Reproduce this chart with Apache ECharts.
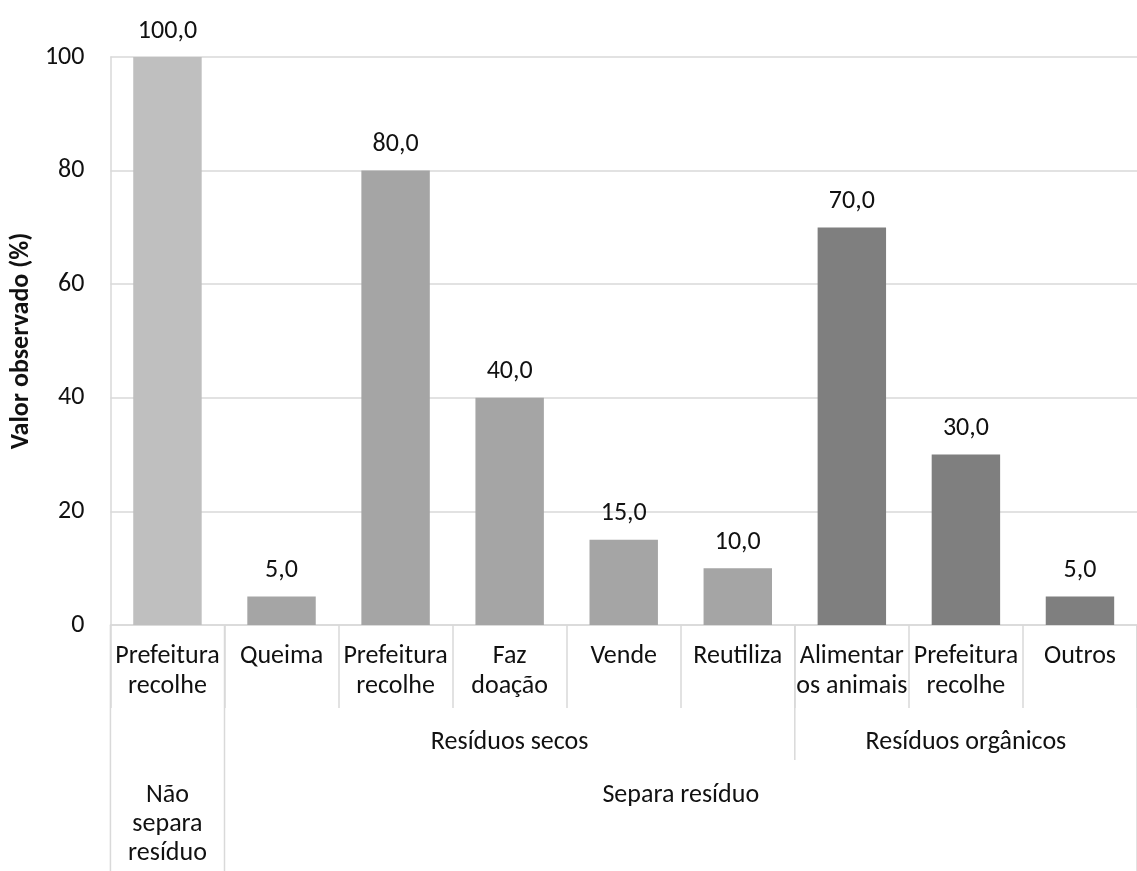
<!DOCTYPE html>
<html>
<head>
<meta charset="utf-8">
<script src="https://cdn.jsdelivr.net/npm/echarts@6/dist/echarts.min.js"></script>
<style>
  html, body { margin: 0; padding: 0; background: #fff; }
  #chart { width: 1137px; height: 871px; }
</style>
</head>
<body>
<div id="chart"></div>
<script>
// categorias (nível 1), valores e agrupamentos
const categories = ['Prefeitura\nrecolhe', 'Queima', 'Prefeitura\nrecolhe', 'Faz\ndoação', 'Vende',
  'Reutiliza', 'Alimentar\nos animais', 'Prefeitura\nrecolhe', 'Outros'];
const values = [100, 5, 80, 40, 15, 10, 70, 30, 5];
const level2Labels = ['', 'Resíduos secos', 'Resíduos orgânicos'];
const level2Spans = [1, 5, 3];
const level3Labels = ['Não\nsepara\nresíduo', 'Separa resíduo'];
const level3Spans = [1, 8];
const groupColors = ['#bfbfbf', '#a5a5a5', '#7f7f7f'];

const FONT = 'Carlito, Lato, sans-serif';
const FS = 26;
const TXT = '#111';
const LINE = '#d9d9d9';

// cor de cada barra pelo grupo do nível 2
const barColors = [];
level2Spans.forEach((n, g) => { for (let i = 0; i < n; i++) barColors.push(groupColors[g]); });

const chart = echarts.init(document.getElementById('chart'));
chart.setOption({
  animation: false,
  grid: { left: 110, right: -15, top: 57, bottom: 246, containLabel: false },
  xAxis: {
    type: 'category',
    data: categories,
    axisLine: { lineStyle: { color: LINE, width: 1.5 } },
    axisTick: { show: true, length: 83, interval: 0, lineStyle: { color: LINE, width: 1.5 } },
    axisLabel: {
      interval: 0, margin: 16, color: TXT, fontFamily: FONT, fontSize: FS,
      lineHeight: 30, verticalAlign: 'top'
    }
  },
  yAxis: {
    type: 'value', min: 0, max: 100, interval: 20,
    name: 'Valor observado (%)', nameLocation: 'middle', nameGap: 70,
    nameTextStyle: { color: TXT, fontFamily: FONT, fontSize: FS, fontWeight: 'bold' },
    axisLine: { show: true, lineStyle: { color: LINE, width: 1.5 } },
    axisLabel: { margin: 26, color: TXT, fontFamily: FONT, fontSize: FS },
    splitLine: { lineStyle: { color: LINE, width: 1.5 } }
  },
  series: [{
    type: 'bar',
    barWidth: '60%',
    data: values.map((v, i) => ({ value: v, itemStyle: { color: barColors[i] } })),
    label: {
      show: true, position: 'top', distance: 13, color: TXT, fontFamily: FONT, fontSize: FS,
      formatter: p => p.value.toFixed(1).replace('.', ',')
    }
  }]
});

// rótulos hierárquicos do eixo x
function drawLevels() {
  const c0 = chart.convertToPixel({ xAxisIndex: 0 }, 0);
  const c1 = chart.convertToPixel({ xAxisIndex: 0 }, 1);
  const band = c1 - c0;
  const edge = i => c0 - band / 2 + i * band;
  const y0 = chart.convertToPixel({ yAxisIndex: 0 }, 0);
  const H = chart.getHeight();
  const g = [];
  const line = (x, ya, yb) => g.push({ type: 'line', silent: true,
    shape: { x1: x, y1: ya, x2: x, y2: yb }, style: { stroke: LINE, lineWidth: 1.5 } });
  const text = (x, y, t) => g.push({ type: 'text', silent: true, x: x, y: y,
    style: { text: t, fill: TXT, fontFamily: FONT, fontSize: FS, lineHeight: 29,
      align: 'center', verticalAlign: 'top' } });

  // nível 3 (limites até a base)
  let start = 0;
  const lvl3Edges = [0];
  level3Spans.forEach((n, k) => {
    text((edge(start) + edge(start + n)) / 2, y0 + 156, level3Labels[k]);
    start += n;
    lvl3Edges.push(start);
  });
  lvl3Edges.forEach(i => line(edge(i), y0, H));

  // nível 2
  start = 0;
  level2Spans.forEach((n, k) => {
    if (level2Labels[k]) text((edge(start) + edge(start + n)) / 2, y0 + 103, level2Labels[k]);
    if (start > 0 && lvl3Edges.indexOf(start) < 0) line(edge(start), y0, y0 + 135);
    start += n;
  });
  chart.setOption({ graphic: g });
}
drawLevels();
</script>
</body>
</html>
